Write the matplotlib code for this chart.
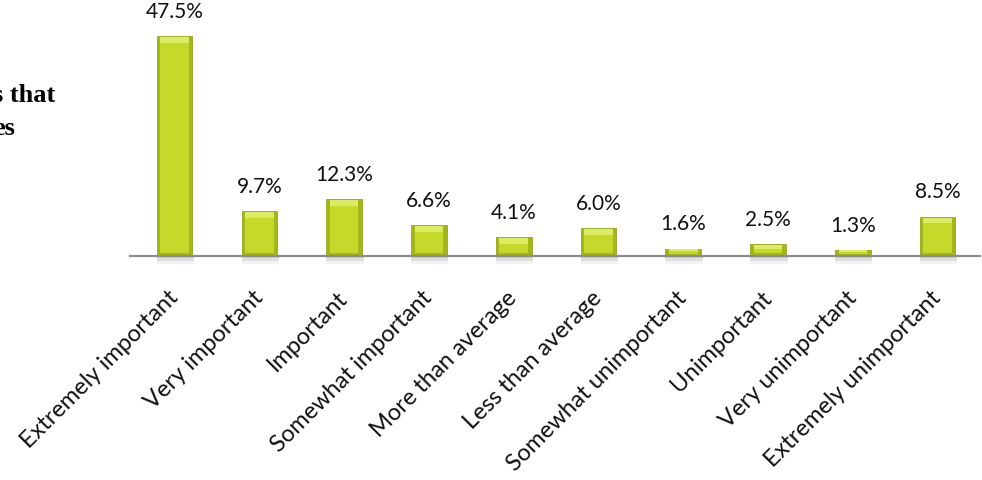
import numpy as np
import matplotlib
matplotlib.use("Agg")
from matplotlib import pyplot as plt

categories = ["Extremely important", "Very important", "Important",
              "Somewhat important", "More than average", "Less than average",
              "Somewhat unimportant", "Unimportant", "Very unimportant",
              "Extremely unimportant"]
values = [47.5, 9.7, 12.3, 6.6, 4.1, 6.0, 1.6, 2.5, 1.3, 8.5]
value_labels = ["47.5%", "9.7%", "12.3%", "6.6%", "4.1%", "6.0%",
                "1.6%", "2.5%", "1.3%", "8.5%"]

plt.rcParams['font.family'] = ['Lato', 'DejaVu Sans']

fig = plt.figure(figsize=(9.82, 4.81), dpi=100)
ax = fig.add_axes([0.132, 0.4657, 0.866, 0.5343])

x = np.arange(len(values))
w = 0.42
vals = np.array(values)

# soft shadow just under the axis
for a, dy in [(0.05, 1.8), (0.07, 1.1), (0.09, 0.5)]:
    ax.bar(x + 0.01, dy, width=w * 1.05, bottom=-dy, color='#000000',
           alpha=a, linewidth=0, zorder=1, clip_on=False)

# bar body (darker rim)
ax.bar(x, vals, width=w, color='#a3b716', edgecolor='#8a9c0e',
       linewidth=0.5, zorder=2)
# main face
inset = np.minimum(0.7, 0.25 * vals)
ax.bar(x, vals - 2 * inset, width=w * 0.8, bottom=inset,
       color='#c5d92b', linewidth=0, zorder=3)
# lighter top bevel
top = np.minimum(1.2, 0.3 * vals)
ax.bar(x, top, width=w * 0.8, bottom=vals - top - inset * 0.3,
       color='#dcec62', linewidth=0, zorder=3)

for xi, v, lab in zip(x, values, value_labels):
    ax.annotate(lab, (xi, v), xytext=(0, 14), textcoords='offset points',
                ha='center', va='baseline', fontsize=15, color='#111111')

ax.set_xlim(-0.53, 9.5)
ax.set_ylim(0, 55.5)
ax.set_yticks([])
ax.set_xticks(x)
ax.set_xticklabels(categories, rotation=45, ha='right', va='center',
                   rotation_mode='anchor', fontsize=17, color='#111111')
ax.tick_params(axis='x', length=0, pad=27)
for s in ['top', 'right', 'left']:
    ax.spines[s].set_visible(False)
ax.spines['bottom'].set_color('#8c8c8c')
ax.spines['bottom'].set_linewidth(1.6)
ax.spines['bottom'].set_zorder(4)

# clipped title fragment on the left
fig.text(-0.007, 0.788, "s that", fontsize=19, fontweight='bold',
         family='Liberation Serif', ha='left', va='baseline')
fig.text(-0.007, 0.719, "es", fontsize=19, fontweight='bold',
         family='Liberation Serif', ha='left', va='baseline')

fig.savefig("out.png", dpi=100)
